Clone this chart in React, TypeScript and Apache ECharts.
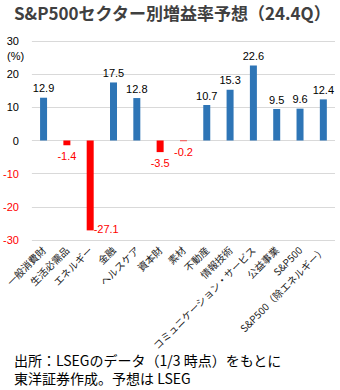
import React, { useEffect, useRef } from "react";
import * as echarts from "echarts";

const categories = [
  "一般消費財",
  "生活必需品",
  "エネルギー",
  "金融",
  "ヘルスケア",
  "資本財",
  "素材",
  "不動産",
  "情報技術",
  "コミュニケーション・サービス",
  "公益事業",
  "S&P500",
  "S&P500（除エネルギー）",
];
const growth = [12.9, -1.4, -27.1, 17.5, 12.8, -3.5, -0.2, 10.7, 15.3, 22.6, 9.5, 9.6, 12.4];
const yTicks = { min: -30, max: 30, interval: 10 };

const titleText = "S&P500セクター別増益率予想（24.4Q）";
const footerLines = ["出所：LSEGのデータ（1/3 時点）をもとに", "東洋証券作成。予想は LSEG"];

const BLUE = "#2E75B6";
const RED = "#FF0000";
const NUM_FONT = "'Liberation Sans', Arial, 'Noto Sans CJK JP', sans-serif";
const JP_FONT = "'Noto Sans CJK JP', 'Liberation Sans', sans-serif";

export default function App() {
  const ref = useRef<HTMLDivElement>(null);
  useEffect(() => {
    if (!ref.current) return;
    const chart = echarts.init(ref.current, undefined, { renderer: "svg" });
    const data = growth.map((v) => {
      const neg = v < 0;
      const item: any = {
        value: v,
        itemStyle: { color: neg ? RED : BLUE },
        label: {
          show: true,
          position: neg ? "bottom" : "top",
          distance: neg ? 5 : 4,
          color: neg ? RED : "#000",
        },
      };
      if (v < -20) {
        item.label.position = "bottom";
        item.label.offset = [16, -12];
      }
      return item;
    });
    chart.setOption({
      animation: false,
      textStyle: { fontFamily: NUM_FONT },
      grid: { left: 30, right: 5, top: 41, bottom: 150, containLabel: false },
      xAxis: {
        type: "category",
        data: categories,
        axisLine: { show: false, onZero: false },
        axisTick: { show: false },
        axisLabel: {
          interval: 0,
          rotate: 45,
          fontSize: 10,
          margin: 8,
          color: "#222",
          fontFamily: JP_FONT,
        },
      },
      yAxis: {
        type: "value",
        min: yTicks.min,
        max: yTicks.max,
        interval: yTicks.interval,
        axisLine: { show: false },
        axisTick: { show: false },
        splitLine: { lineStyle: { color: "#d9d9d9", width: 1 } },
        axisLabel: {
          margin: 13,
          fontSize: 11,
          formatter: (v: number) => (v < 0 ? `{n|${v}}` : `{p|${v}}`),
          rich: {
            n: { color: RED, fontSize: 11, fontFamily: NUM_FONT },
            p: { color: "#000", fontSize: 11, fontFamily: NUM_FONT },
          },
        },
      },
      series: [
        {
          type: "bar",
          barWidth: 7,
          data,
          label: { fontSize: 11, fontFamily: NUM_FONT },
        },
      ],
      graphic: [
        {
          type: "text",
          left: 14,
          top: 4,
          style: {
            text: titleText,
            font: `bold 17px ${JP_FONT}`,
            fill: "#404040",
          },
        },
        {
          type: "text",
          left: 7,
          top: 50,
          style: { text: "(%)", font: `11px ${NUM_FONT}`, fill: "#000" },
        },
        ...footerLines.map((t, i) => ({
          type: "text",
          x: 14,
          y: 360 + i * 18,
          style: {
            text: t,
            font: `14px ${JP_FONT}`,
            verticalAlign: "middle",
            fill: "#000",
          },
        })),
      ],
    });
    return () => chart.dispose();
  }, []);
  return (
    <div
      ref={ref}
      style={{ position: "fixed", left: 0, top: 0, width: 340, height: 390, background: "#fff" }}
    />
  );
}
